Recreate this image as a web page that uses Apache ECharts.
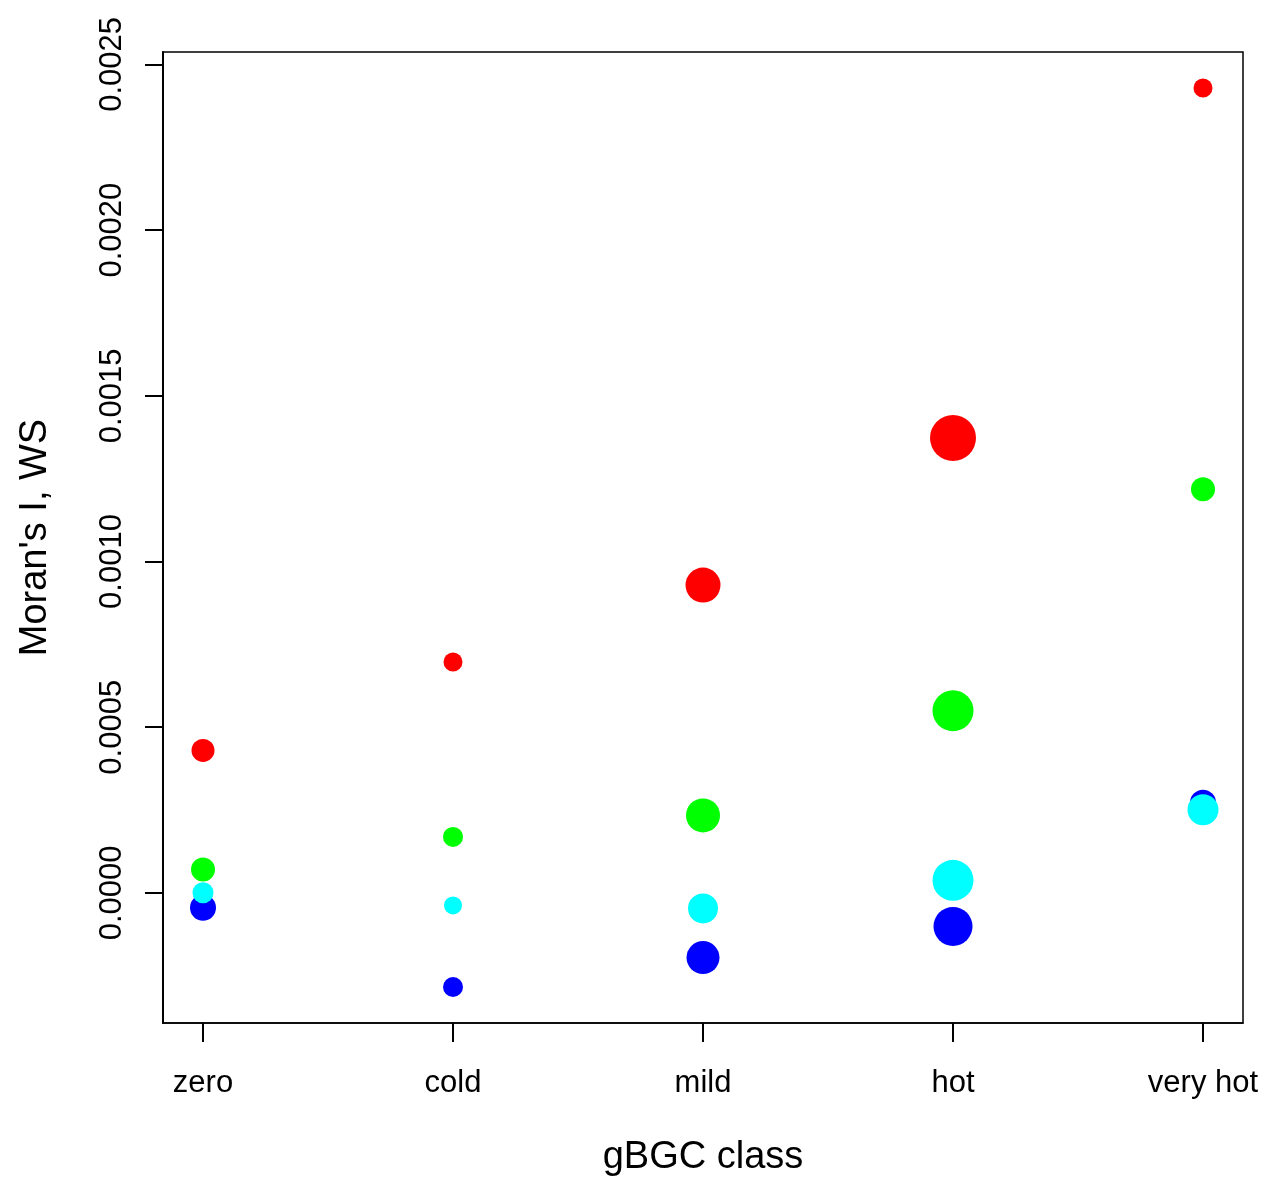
<!DOCTYPE html>
<html>
<head>
<meta charset="utf-8">
<script src="https://cdn.jsdelivr.net/npm/echarts@6/dist/echarts.min.js"></script>
<style>
  html, body { margin: 0; padding: 0; background: #fff; }
  #chart { width: 1266px; height: 1178px; }
</style>
</head>
<body>
<div id="chart"></div>
<script>
// Categories (x axis)
const categories = ['zero', 'cold', 'mild', 'hot', 'very hot'];
const xTicks = [1, 2, 3, 4, 5];
// Y tick values
const yTicks = [0, 0.0005, 0.0010, 0.0015, 0.0020, 0.0025];

// Series values (Moran's I) per category
const redValues   = [0.000430, 0.000697, 0.000929, 0.001373, 0.002429];
const greenValues = [0.0000707, 0.000169, 0.000234, 0.000550, 0.001218];
const cyanValues  = [0.0000006, -0.0000376, -0.0000467, 0.0000380, 0.000251];
const blueValues  = [-0.0000446, -0.000284, -0.000195, -0.000101, 0.000272];

// Point sizes (diameter) per category
const redSizes   = [23, 19, 35, 46, 19];
const greenSizes = [24, 20, 34, 41, 24];
const cyanSizes  = [21, 18, 30, 41, 31];
const blueSizes  = [26, 20, 33, 39, 26];

const FONT = '"Liberation Sans", Arial, Helvetica, sans-serif';

function build(values, sizes) {
  return values.map((v, i) => [xTicks[i], v, sizes[i]]);
}

const chart = echarts.init(document.getElementById('chart'), null, { renderer: 'canvas' });

function mk(name, color, values, sizes) {
  return {
    name: name,
    type: 'scatter',
    data: build(values, sizes),
    symbol: 'circle',
    symbolSize: (v) => v[2],
    itemStyle: { color: color, opacity: 1 },
    emphasis: { disabled: true },
    silent: true
  };
}

const option = {
  animation: false,
  backgroundColor: '#ffffff',
  grid: {
    left: 163, right: 23, top: 52, bottom: 155,
    containLabel: false,
    outerBoundsMode: 'none',
    show: true, borderColor: '#000', borderWidth: 1.5,
    backgroundColor: 'transparent'
  },
  xAxis: {
    type: 'value',
    min: 0.84, max: 5.16,
    name: 'gBGC class',
    nameLocation: 'middle',
    nameGap: 116,
    nameTextStyle: { fontFamily: FONT, fontSize: 38, color: '#000' },
    axisLine: { show: true, onZero: false, lineStyle: { color: '#000', width: 1.5 } },
    axisTick: { show: true, length: 19, lineStyle: { color: '#000', width: 2 }, customValues: xTicks },
    axisLabel: {
      show: true, margin: 45, fontFamily: FONT, fontSize: 31, color: '#000',
      customValues: xTicks,
      formatter: (v) => categories[Math.round(v) - 1]
    },
    splitLine: { show: false }
  },
  yAxis: {
    type: 'value',
    min: -0.0003925, max: 0.0025375,
    name: "Moran's I, WS",
    nameLocation: 'middle',
    nameGap: 108,
    nameRotate: 90,
    nameTextStyle: { fontFamily: FONT, fontSize: 38, color: '#000' },
    axisLine: { show: true, onZero: false, lineStyle: { color: '#000', width: 2 } },
    axisTick: { show: true, length: 18, lineStyle: { color: '#000', width: 2 }, customValues: yTicks },
    axisLabel: {
      show: true, rotate: 90, margin: 35, fontFamily: FONT, fontSize: 31, color: '#000',
      customValues: yTicks,
      formatter: (v) => v.toFixed(4)
    },
    splitLine: { show: false }
  },
  series: [
    mk('blue', '#0000FF', blueValues, blueSizes),
    mk('cyan', '#00FFFF', cyanValues, cyanSizes),
    mk('green', '#00FF00', greenValues, greenSizes),
    mk('red', '#FF0000', redValues, redSizes)
  ]
};

chart.setOption(option);
</script>
</body>
</html>
